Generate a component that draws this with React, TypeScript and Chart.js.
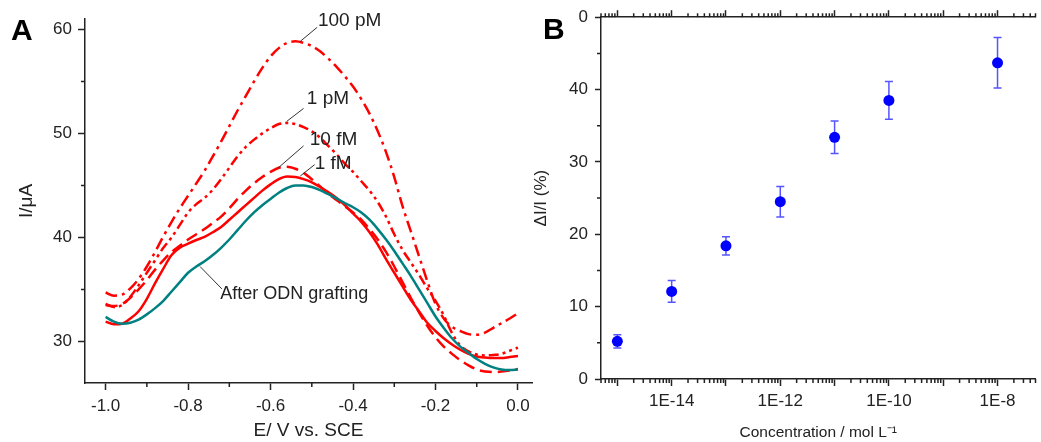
import React, { useEffect, useRef } from 'react';
import { Chart, registerables } from 'chart.js';

Chart.register(...registerables);

const FONT = "'Liberation Sans', Arial, Helvetica, sans-serif";
const INK = '#222222';

// ---------- Panel A data (E / V vs SCE, I / µA) ----------
const POTENTIAL = [
  -1.0, -0.98, -0.96, -0.94, -0.92, -0.9, -0.88, -0.86, -0.84, -0.82,
  -0.8, -0.78, -0.76, -0.74, -0.72, -0.7, -0.68, -0.66, -0.64, -0.62,
  -0.6, -0.58, -0.56, -0.54, -0.52, -0.5, -0.48, -0.46, -0.44, -0.42,
  -0.4, -0.38, -0.36, -0.34, -0.32, -0.3, -0.28, -0.26, -0.24, -0.22,
  -0.2, -0.18, -0.16, -0.14, -0.12, -0.1, -0.08, -0.06, -0.04, -0.02, 0.0,
];

const I_100PM = [
  34.7, 34.4, 34.5, 35.1, 36.0, 37.2, 38.6, 40.1, 41.5, 42.8,
  44.0, 45.2, 46.4, 47.8, 49.2, 50.7, 52.2, 53.6, 55.0, 56.3,
  57.4, 58.2, 58.7, 58.85, 58.7, 58.4, 57.9, 57.2, 56.4, 55.5,
  54.5, 53.3, 51.9, 50.2, 48.2, 45.8, 43.0, 40.6, 38.2, 35.8,
  33.6, 32.2, 31.4, 31.0, 30.7, 30.65, 30.85, 31.3, 31.75, 32.2, 32.7,
];

const I_1PM = [
  33.6, 33.3, 33.5, 34.3, 35.4, 36.6, 37.8, 39.0, 40.0, 41.2,
  42.4, 43.2, 43.8, 44.6, 45.6, 46.7, 47.8, 48.7, 49.4, 50.0,
  50.5, 50.9, 51.0, 50.9, 50.6, 50.2, 49.6, 48.8, 48.0, 47.1,
  46.3, 45.4, 44.5, 43.4, 42.0, 40.3, 38.8, 37.6, 36.4, 35.1,
  33.9, 32.5, 30.8, 29.6, 29.05, 28.75, 28.65, 28.7, 28.8, 29.1, 29.4,
];

const I_10FM = [
  33.5, 33.4, 33.6, 34.2, 35.0, 35.9, 36.9, 37.8, 38.6, 39.2,
  39.8, 40.3, 40.8, 41.4, 42.0, 42.8, 43.7, 44.5, 45.2, 45.8,
  46.3, 46.7, 46.8, 46.6, 46.2, 45.6, 44.9, 44.2, 43.6, 43.0,
  42.4, 41.7, 40.8, 39.8, 38.6, 37.2, 35.7, 34.2, 32.8, 31.5,
  30.4, 29.5, 28.8, 28.2, 27.7, 27.3, 27.1, 27.05, 27.1, 27.2, 27.35,
];

const I_1FM = [
  31.9, 31.65, 31.7, 32.2, 32.9, 34.1, 35.6, 37.0, 38.3, 39.0,
  39.4, 39.75, 40.05, 40.5, 41.0, 41.7, 42.4, 43.1, 43.8, 44.5,
  45.1, 45.6, 45.85, 45.8, 45.6, 45.3, 44.85, 44.35, 43.8, 43.1,
  42.3, 41.5, 40.5, 39.3, 37.9, 36.6, 35.3, 34.0, 32.9, 31.8,
  31.0, 30.3, 29.7, 29.2, 28.8, 28.55, 28.45, 28.4, 28.4, 28.5, 28.6,
];

const I_ODN = [
  32.35, 31.9, 31.7, 31.8, 32.1, 32.6, 33.2, 33.9, 34.8, 35.7,
  36.6, 37.2, 37.7, 38.3, 39.0, 39.8, 40.7, 41.6, 42.4, 43.1,
  43.7, 44.3, 44.75, 45.0, 45.0, 44.85, 44.55, 44.15, 43.75, 43.3,
  42.9, 42.4, 41.7, 40.8, 39.8, 38.7, 37.5, 36.3, 35.0, 33.7,
  32.4, 31.3, 30.3, 29.5, 28.9, 28.3, 27.85, 27.5, 27.3, 27.25, 27.3,
];

const A_X_MAJOR = [-1.0, -0.8, -0.6, -0.4, -0.2, 0.0];
const A_X_MINOR = [-0.9, -0.7, -0.5, -0.3, -0.1];
const A_Y_MAJOR = [30, 40, 50, 60];
const A_Y_MINOR = [35, 45, 55];

const A_LABELS = ['100 pM', '1 pM', '10 fM', '1 fM', 'After ODN grafting'];

// ---------- Panel B data ----------
const CONCENTRATION = [1e-15, 1e-14, 1e-13, 1e-12, 1e-11, 1e-10, 1e-8];
const RESPONSE = [5.2, 12.1, 18.4, 24.5, 33.4, 38.5, 43.7];
const RESPONSE_ERR = [0.9, 1.5, 1.25, 2.1, 2.25, 2.6, 3.5];

const B_DECADES = [1e-15, 1e-14, 1e-13, 1e-12, 1e-11, 1e-10, 1e-9, 1e-8];
const B_X_LABELS: Record<string, string> = { '-14': '1E-14', '-12': '1E-12', '-10': '1E-10', '-8': '1E-8' };
const B_MINOR_MULT = [2, 3, 4, 5, 6, 7, 8, 9];
const B_MINOR_DECADES = [1e-16, 1e-15, 1e-14, 1e-13, 1e-12, 1e-11, 1e-10, 1e-9, 1e-8];
const B_Y_MAJOR = [0, 10, 20, 30, 40, 50];
const B_Y_MAJOR_LABELS = ['0', '10', '20', '30', '40', '0'];
const B_Y_MINOR = [5, 15, 25, 35, 45];

type MinorSpec = { scaleId: string; values: number[]; length: number; side: 'bottom' | 'top' | 'left' };

function makeMinorTicks(specs: MinorSpec[]) {
  return {
    id: 'minorTicks',
    afterDraw(chart: any) {
      const ctx = chart.ctx;
      ctx.save();
      ctx.strokeStyle = INK;
      ctx.lineWidth = 1.5;
      ctx.beginPath();
      for (const s of specs) {
        const scale = chart.scales[s.scaleId];
        for (const v of s.values) {
          if (v < scale.min || v > scale.max) continue;
          const p = scale.getPixelForValue(v);
          if (s.side === 'bottom') {
            ctx.moveTo(p, scale.top);
            ctx.lineTo(p, scale.top + s.length);
          } else if (s.side === 'top') {
            ctx.moveTo(p, scale.bottom);
            ctx.lineTo(p, scale.bottom - s.length);
          } else {
            ctx.moveTo(scale.right, p);
            ctx.lineTo(scale.right - s.length, p);
          }
        }
      }
      ctx.stroke();
      ctx.restore();
    },
  };
}

const ANNOTATIONS = [
  { label: 0, size: 19, at: [-0.485, 60.85], from: [-0.528, 58.85], to: [-0.487, 60.2] },
  { label: 1, size: 19, at: [-0.512, 53.3], from: [-0.561, 51.15], to: [-0.52, 52.4] },
  { label: 2, size: 19, at: [-0.505, 49.4], from: [-0.581, 46.7], to: [-0.52, 48.8] },
  { label: 3, size: 19, at: [-0.493, 47.1], from: [-0.528, 45.9], to: [-0.493, 47.0] },
  { label: 4, size: 18, at: [-0.722, 34.6], from: [-0.771, 37.2], to: [-0.718, 35.05] },
];

const annotationPlugin = {
  id: 'curveLabels',
  afterDraw(chart: any) {
    const ctx = chart.ctx;
    const xs = chart.scales.x;
    const ys = chart.scales.y;
    ctx.save();
    ctx.strokeStyle = '#333333';
    ctx.lineWidth = 1;
    for (const a of ANNOTATIONS) {
      ctx.beginPath();
      ctx.moveTo(xs.getPixelForValue(a.from[0]), ys.getPixelForValue(a.from[1]));
      ctx.lineTo(xs.getPixelForValue(a.to[0]), ys.getPixelForValue(a.to[1]));
      ctx.stroke();
    }
    ctx.fillStyle = INK;
    ctx.textAlign = 'left';
    ctx.textBaseline = 'middle';
    for (const a of ANNOTATIONS) {
      ctx.font = `${a.size}px ${FONT}`;
      ctx.fillText(A_LABELS[a.label], xs.getPixelForValue(a.at[0]), ys.getPixelForValue(a.at[1]));
    }
    ctx.restore();
  },
};

const errorBarPlugin = {
  id: 'errorBars',
  beforeDatasetsDraw(chart: any) {
    const ctx = chart.ctx;
    const xs = chart.scales.x;
    const ys = chart.scales.y;
    ctx.save();
    ctx.strokeStyle = 'rgb(85,85,255)';
    ctx.lineWidth = 1.5;
    ctx.beginPath();
    CONCENTRATION.forEach((c, i) => {
      const px = xs.getPixelForValue(c);
      const lo = ys.getPixelForValue(RESPONSE[i] - RESPONSE_ERR[i]);
      const hi = ys.getPixelForValue(RESPONSE[i] + RESPONSE_ERR[i]);
      ctx.moveTo(px, lo);
      ctx.lineTo(px, hi);
      ctx.moveTo(px - 4, lo);
      ctx.lineTo(px + 4, lo);
      ctx.moveTo(px - 4, hi);
      ctx.lineTo(px + 4, hi);
    });
    ctx.stroke();
    ctx.restore();
  },
};

function axisGrid(len: number) {
  return { display: true, drawOnChartArea: false, drawTicks: true, tickLength: len, tickColor: INK, tickWidth: 1.5 };
}
const BORDER = { display: true, color: INK, width: 1.5 };

function line(data: number[], color: string, dash: number[]) {
  return {
    data: POTENTIAL.map((x, i) => ({ x, y: data[i] })),
    showLine: true,
    borderColor: color,
    backgroundColor: color,
    borderWidth: 2.5,
    borderDash: dash,
    pointRadius: 0,
    cubicInterpolationMode: 'monotone',
    fill: false,
  };
}

export default function App() {
  const refA = useRef<HTMLCanvasElement>(null);
  const refB = useRef<HTMLCanvasElement>(null);

  useEffect(() => {
    Chart.defaults.font.family = FONT;
    Chart.defaults.color = INK;

    const chartA = new Chart(refA.current as HTMLCanvasElement, {
      type: 'scatter',
      data: {
        datasets: [
          line(I_ODN, '#008080', []),
          line(I_1FM, '#ff0000', []),
          line(I_10FM, '#ff0000', [12, 6]),
          line(I_1PM, '#ff0000', [10, 4, 3, 4, 3, 4]),
          line(I_100PM, '#ff0000', [12, 5, 3, 5]),
        ] as any,
      },
      options: {
        responsive: false,
        animation: false,
        devicePixelRatio: 1,
        events: [],
        layout: { padding: { top: 19, right: 8, left: 0, bottom: 0 } },
        plugins: { legend: { display: false }, tooltip: { enabled: false } },
        scales: {
          x: {
            type: 'linear',
            min: -1.05,
            max: 0.034,
            afterBuildTicks: (s: any) => { s.ticks = A_X_MAJOR.map((v) => ({ value: v })); },
            afterFit: (s: any) => { s.height = 59; },
            grid: axisGrid(7),
            border: BORDER,
            ticks: {
              autoSkip: false, maxRotation: 0, padding: 6, color: INK,
              font: { size: 17 },
              callback: (v: any) => Number(v).toFixed(1),
            },
            title: { display: true, text: 'E/ V vs. SCE', color: INK, font: { size: 19 }, padding: { top: 0, bottom: 0 } },
          },
          y: {
            type: 'linear',
            min: 26,
            max: 61,
            afterBuildTicks: (s: any) => { s.ticks = A_Y_MAJOR.map((v) => ({ value: v })); },
            afterFit: (s: any) => { s.width = 85; },
            grid: axisGrid(7),
            border: BORDER,
            ticks: { padding: 6, color: INK, font: { size: 17 }, callback: (v: any) => String(v) },
            title: { display: true, text: 'I/\u03bcA', color: INK, font: { size: 19 }, padding: { top: 15, bottom: 0 } },
          },
        },
      } as any,
      plugins: [
        makeMinorTicks([
          { scaleId: 'x', values: A_X_MINOR, length: 4, side: 'bottom' },
          { scaleId: 'y', values: A_Y_MINOR, length: 4, side: 'left' },
        ]),
        annotationPlugin,
      ],
    });

    const bMinor: number[] = [];
    B_MINOR_DECADES.forEach((d) => B_MINOR_MULT.forEach((m) => bMinor.push(m * d)));

    const logTicks = (s: any) => { s.ticks = B_DECADES.map((v) => ({ value: v })); };

    const chartB = new Chart(refB.current as HTMLCanvasElement, {
      type: 'scatter',
      data: {
        datasets: [
          {
            data: CONCENTRATION.map((c, i) => ({ x: c, y: RESPONSE[i] })),
            pointRadius: 5.5,
            pointBackgroundColor: '#0000ff',
            pointBorderColor: '#0000ff',
            pointBorderWidth: 0,
            showLine: false,
          },
        ] as any,
      },
      options: {
        responsive: false,
        animation: false,
        devicePixelRatio: 1,
        events: [],
        layout: { padding: { top: 0, right: 0, left: 0, bottom: 0 } },
        plugins: { legend: { display: false }, tooltip: { enabled: false } },
        scales: {
          x: {
            type: 'logarithmic',
            position: 'bottom',
            min: 5e-16,
            max: 5e-8,
            afterBuildTicks: logTicks,
            afterFit: (s: any) => { s.height = 63; },
            grid: axisGrid(7),
            border: BORDER,
            ticks: {
              autoSkip: false, maxRotation: 0, padding: 5, color: INK,
              font: { size: 17 },
              callback: (v: any) => B_X_LABELS[String(Math.round(Math.log10(Number(v))))] || '',
            },
            title: { display: true, text: 'Concentration / mol L\u207b\u00b9', color: INK, font: { size: 15.5 }, padding: { top: 0, bottom: 0 } },
          },
          x2: {
            type: 'logarithmic',
            position: 'top',
            min: 5e-16,
            max: 5e-8,
            afterBuildTicks: logTicks,
            afterFit: (s: any) => { s.height = 17; },
            grid: axisGrid(7),
            border: BORDER,
            ticks: { display: false },
          },
          y: {
            type: 'linear',
            min: 0,
            max: 50,
            afterBuildTicks: (s: any) => { s.ticks = B_Y_MAJOR.map((v) => ({ value: v })); },
            afterFit: (s: any) => { s.width = 76; },
            grid: axisGrid(6),
            border: BORDER,
            ticks: {
              padding: 7, color: INK, font: { size: 17 },
              callback: (v: any) => B_Y_MAJOR_LABELS[B_Y_MAJOR.indexOf(Number(v))],
            },
            title: { display: true, text: '\u0394I/I (%)', color: INK, font: { size: 17 }, padding: { top: 6, bottom: 0 } },
          },
        },
      } as any,
      plugins: [
        makeMinorTicks([
          { scaleId: 'x', values: bMinor, length: 4, side: 'bottom' },
          { scaleId: 'x2', values: bMinor, length: 4, side: 'top' },
          { scaleId: 'y', values: B_Y_MINOR, length: 4, side: 'left' },
        ]),
        errorBarPlugin,
      ],
    });

    return () => {
      chartA.destroy();
      chartB.destroy();
    };
  }, []);

  const panelLabel: React.CSSProperties = {
    position: 'absolute',
    font: `bold 30px ${FONT}`,
    lineHeight: '30px',
    color: '#000',
  };

  return (
    <div style={{ position: 'absolute', left: 0, top: 0, width: 1041, height: 442, background: '#fff', overflow: 'hidden' }}>
      <canvas ref={refA} width={540} height={442} style={{ position: 'absolute', left: 0, top: 0, width: 540, height: 442 }} />
      <canvas ref={refB} width={516} height={442} style={{ position: 'absolute', left: 525, top: 0, width: 516, height: 442 }} />
      <div style={{ ...panelLabel, left: 11, top: 15 }}>A</div>
      <div style={{ ...panelLabel, left: 543, top: 14 }}>B</div>
    </div>
  );
}
